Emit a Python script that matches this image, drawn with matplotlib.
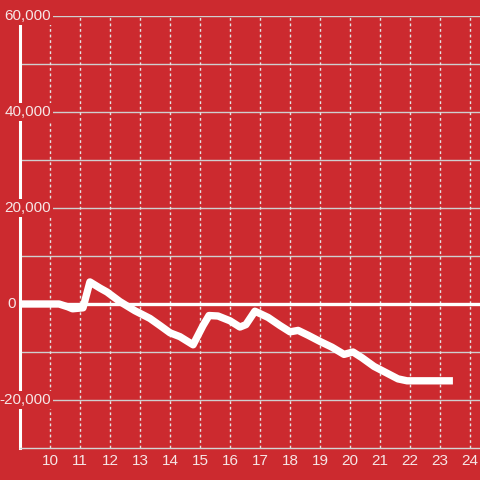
import matplotlib
matplotlib.use("Agg")
import matplotlib.pyplot as plt
import matplotlib.transforms as mtransforms

# hours of the day (decimal) and running value
hours = [9.0, 10.3, 10.6, 10.75, 11.1, 11.33, 11.67, 11.9, 12.33, 12.83,
         13.33, 13.67, 14.0, 14.33, 14.77, 15.1, 15.3, 15.6, 16.0, 16.33,
         16.53, 16.83, 17.27, 17.67, 18.0, 18.27, 18.6, 19.0, 19.4, 19.8,
         20.1, 20.4, 20.8, 21.2, 21.6, 21.9, 23.43]
values = [0, 0, -600, -1000, -800, 4600, 3300, 2500, 500, -1400,
          -3000, -4500, -6000, -6800, -8500, -4500, -2400, -2500, -3500, -4800,
          -4300, -1500, -2800, -4500, -5800, -5500, -6500, -7800, -9000, -10500,
          -10000, -11200, -13000, -14300, -15600, -16000, -16000]

x_ticks = list(range(10, 25))
y_grid = list(range(-20000, 60001, 10000))
y_labels = [60000, 40000, 20000, 0, -20000]

bg = "#cc2a2f"
txt = "#f6e6e6"

plt.rcParams['font.family'] = ['Liberation Sans', 'DejaVu Sans']

fig = plt.figure(figsize=(4.8, 4.8), dpi=100, facecolor=bg)
ax = fig.add_axes([20 / 480, 32 / 480, 460 / 480, 432 / 480])
ax.set_facecolor(bg)
ax.set_xlim(9, 24.333)
ax.set_ylim(-30000, 60000)

for y in y_grid:
    if y == 0:
        continue
    ax.axhline(y, color="#cfcfcf", lw=1, zorder=1)
for x in x_ticks:
    ax.axvline(x, color="#e4e4e4", lw=1, ls=(0, (2, 2)), zorder=1)
ax.axhline(0, color="white", lw=2.4, zorder=2)

ax.plot(hours, values, color="white", lw=5.3, solid_joinstyle="round",
        solid_capstyle="butt", zorder=3)

for s in ["top", "right"]:
    ax.spines[s].set_visible(False)
ax.spines["left"].set_color("white")
ax.spines["left"].set_linewidth(2.2)
ax.spines["bottom"].set_color("#d4d4d4")
ax.spines["bottom"].set_linewidth(1)

ax.set_yticks([])
ax.set_xticks(x_ticks)
ax.tick_params(axis="x", length=0, pad=4, labelsize=11, labelcolor=txt)

# y labels sit on top of the axis line with a background box
trans = mtransforms.blended_transform_factory(fig.transFigure, ax.transData)
for v in y_labels:
    xr = 16 / 480 if v == 0 else 51 / 480
    ax.text(xr, v, f"{v:,}", transform=trans, ha="right", va="center",
            fontsize=11, color=txt, zorder=5, clip_on=False,
            bbox=dict(boxstyle="square,pad=0.15", fc=bg, ec="none"))

fig.savefig("out.png", dpi=100, facecolor=bg)
